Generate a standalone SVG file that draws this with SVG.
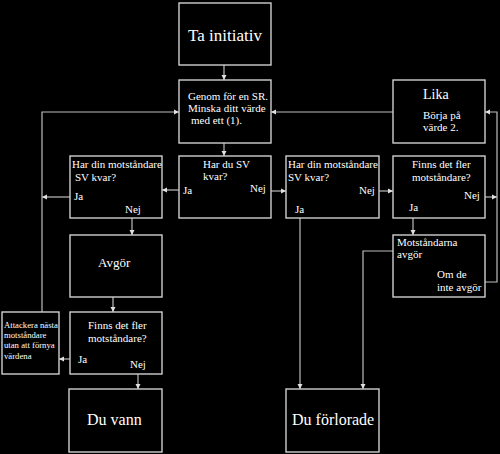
<svg xmlns="http://www.w3.org/2000/svg" width="500" height="454" viewBox="0 0 500 454">
<style>
.box{fill:#000;stroke:#cfcfcf;stroke-width:1.4}
.c{fill:none;stroke:#bdbdbd;stroke-width:1.2}
text{font-family:"Liberation Serif","Times New Roman",serif;fill:#fff}
.s{font-size:11px}
.xs{font-size:8.7px}
.m{font-size:14px}
.l{font-size:16px}
</style>
<defs>
<marker id="a" markerUnits="userSpaceOnUse" markerWidth="6" markerHeight="6" refX="5" refY="3" orient="auto">
<path d="M0,0.5 L5,3 L0,5.5 Z" fill="#e0e0e0"/>
</marker>
</defs>
<rect width="500" height="454" fill="#000"/>
<g id="connectors">
<path class="c" d="M224,65 V80" marker-end="url(#a)"/>
<path class="c" d="M224,143 V156" marker-end="url(#a)"/>
<path class="c" d="M393,112 H271" marker-end="url(#a)"/>
<path class="c" d="M179,190 H162" marker-end="url(#a)"/>
<path class="c" d="M271,191 H286" marker-end="url(#a)"/>
<path class="c" d="M70,197 H42" marker-end="url(#a)"/>
<path class="c" d="M132,218 V235" marker-end="url(#a)"/>
<path class="c" d="M113,297 V312" marker-end="url(#a)"/>
<path class="c" d="M70,359 H59" marker-end="url(#a)"/>
<path class="c" d="M138,374 V389" marker-end="url(#a)"/>
<path class="c" d="M379,191 H393" marker-end="url(#a)"/>
<path class="c" d="M413,218 V235" marker-end="url(#a)"/>
<path class="c" d="M485,197 H497" marker-end="url(#a)"/>
<path class="c" d="M485,282 H497 V112 H485" marker-end="url(#a)"/>
<path class="c" d="M393,251 H363 V389" marker-end="url(#a)"/>
<path class="c" d="M300,218 V389" marker-end="url(#a)"/>
<path class="c" d="M42,312 V112 H179" marker-end="url(#a)"/>
</g>
<g id="ta-initiativ"><rect class="box" x="179" y="3" width="92" height="62"/><text x="188" y="41" style="font-size:17px">Ta initiativ</text></g>
<g id="genom"><rect class="box" x="179" y="80" width="92" height="63"/>
<text class="s" x="188" y="100">Genom för en SR.</text><text class="s" x="188" y="112">Minska ditt värde</text><text class="s" x="191" y="124">med ett (1).</text></g>
<g id="lika"><rect class="box" x="393" y="80" width="92" height="63"/>
<text class="m" x="423" y="99">Lika</text><text class="s" x="423" y="119">Börja på</text><text class="s" x="423" y="131">värde 2.</text></g>
<g id="har-din-1"><rect class="box" x="70" y="156" width="92" height="62"/>
<text class="s" x="72" y="168">Har din motståndare</text><text class="s" x="75" y="181">SV kvar?</text>
<text class="s" x="74" y="200">Ja</text><text class="s" x="125" y="213">Nej</text></g>
<g id="har-du"><rect class="box" x="179" y="156" width="92" height="62"/>
<text class="s" x="203" y="168">Har du SV</text><text class="s" x="203" y="180">kvar?</text>
<text class="s" x="183" y="194">Ja</text><text class="s" x="250" y="192">Nej</text></g>
<g id="har-din-2"><rect class="box" x="286" y="156" width="93" height="62"/>
<text class="s" x="288" y="168">Har din motståndare</text><text class="s" x="288" y="181">SV kvar?</text>
<text class="s" x="359" y="194">Nej</text><text class="s" x="295" y="213">Ja</text></g>
<g id="finns-1"><rect class="box" x="393" y="156" width="92" height="62"/>
<text class="s" x="412" y="168">Finns det fler</text><text class="s" x="412" y="181">motståndare?</text>
<text class="s" x="464" y="199">Nej</text><text class="s" x="409" y="211">Ja</text></g>
<g id="avgor"><rect class="box" x="70" y="235" width="92" height="62"/><text class="m" x="98" y="267" style="font-size:13px">Avgör</text></g>
<g id="motstandarna"><rect class="box" x="393" y="235" width="92" height="62"/>
<text class="s" x="397" y="246">Motståndarna</text><text class="s" x="397" y="258">avgör</text>
<text class="s" x="437" y="278">Om de</text><text class="s" x="437" y="291">inte avgör</text></g>
<g id="attackera"><rect class="box" x="2" y="312" width="57" height="62"/>
<text class="xs" x="4" y="328">Attackera nästa</text><text class="xs" x="4" y="338">motståndare</text>
<text class="xs" x="4" y="348">utan att förnya</text><text class="xs" x="4" y="359">värdena</text></g>
<g id="finns-2"><rect class="box" x="70" y="312" width="92" height="62"/>
<text class="s" x="88" y="329">Finns det fler</text><text class="s" x="88" y="342">motståndare?</text>
<text class="s" x="78" y="363">Ja</text><text class="s" x="130" y="368">Nej</text></g>
<g id="du-vann"><rect class="box" x="69" y="389" width="93" height="63"/><text class="l" x="87" y="425">Du vann</text></g>
<g id="du-forlorade"><rect class="box" x="286" y="389" width="93" height="63"/><text class="l" x="292" y="425">Du förlorade</text></g>
</svg>
